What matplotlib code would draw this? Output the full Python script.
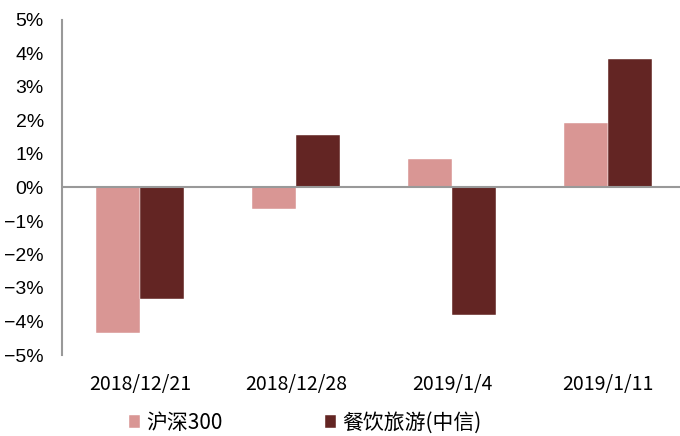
import numpy as np
import matplotlib
matplotlib.use("Agg")
import matplotlib.pyplot as plt
from matplotlib.ticker import FuncFormatter

plt.rcParams['font.family'] = ['Liberation Sans', 'DejaVu Sans']
plt.rcParams['axes.unicode_minus'] = True

dates = ['2018/12/21', '2018/12/28', '2019/1/4', '2019/1/11']
hs300 = [-4.33, -0.63, 0.84, 1.94]
catering = [-3.34, 1.58, -3.82, 3.85]
names = ['沪深300', '餐饮旅游(中信)']
colors = ['#D99694', '#632523']

fig = plt.figure(figsize=(6.8, 4.36), dpi=100)
ax = fig.add_axes([62/680, 81/436, 624/680, 335/436])

x = np.arange(len(dates))
w = 0.285
ax.bar(x - w/2, hs300, w, color=colors[0], label=names[0], edgecolor='white', linewidth=0.3, zorder=2)
ax.bar(x + w/2, catering, w, color=colors[1], label=names[1], edgecolor='white', linewidth=0.3, zorder=2)
ax.axhline(0, color='#999999', lw=1.5, zorder=3)

ax.set_xlim(-0.5, 3.5)
ax.set_ylim(-5, 5)
ax.set_yticks(np.arange(-5, 6, 1))
ax.yaxis.set_major_formatter(FuncFormatter(lambda v, p: ('%d%%' % v).replace('-', '\u2212')))
ax.tick_params(axis='y', length=0, labelsize=14, pad=13)
ax.set_xticks(x)
ax.set_xticklabels(dates, fontsize=14, family=['Noto Sans CJK SC'])
ax.tick_params(axis='x', length=0, pad=14)

for s in ['top', 'right', 'bottom']:
    ax.spines[s].set_visible(False)
ax.spines['left'].set_color('#999999')
ax.spines['left'].set_linewidth(1.5)

leg = fig.legend(loc='center left', bbox_to_anchor=(114/680, 13/436), ncol=2, frameon=False,
                 prop={'family': ['Noto Sans CJK SC'], 'size': 15},
                 handlelength=0.55, handleheight=0.55, handletextpad=0.3, columnspacing=4.9,
                 borderpad=0.2)

plt.savefig('out.png', dpi=100)
